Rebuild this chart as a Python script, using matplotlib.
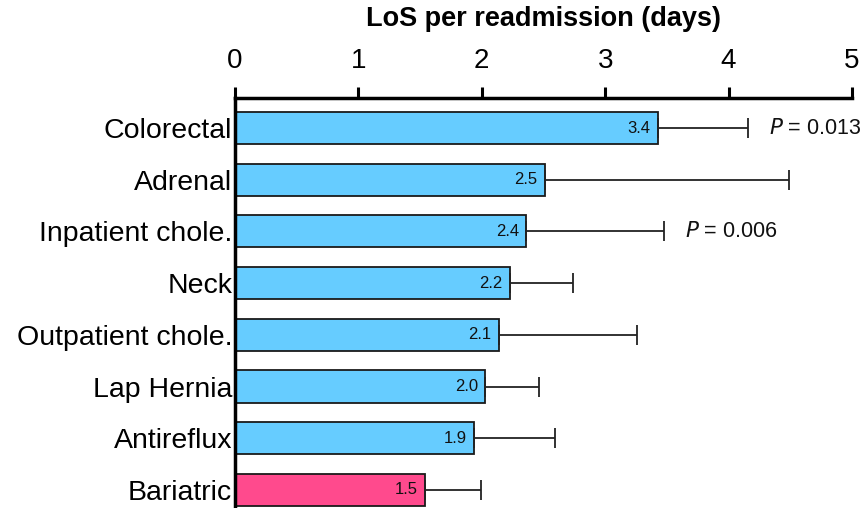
import matplotlib.pyplot as plt

plt.rcParams['font.family'] = ['Liberation Sans', 'DejaVu Sans']

categories = ['Colorectal', 'Adrenal', 'Inpatient chole.', 'Neck',
              'Outpatient chole.', 'Lap Hernia', 'Antireflux', 'Bariatric']
los_mean = [3.43, 2.51, 2.36, 2.23, 2.14, 2.03, 1.94, 1.54]
los_upper = [4.16, 4.49, 3.48, 2.74, 3.26, 2.46, 2.59, 1.99]
value_labels = ['3.4', '2.5', '2.4', '2.2', '2.1', '2.0', '1.9', '1.5']
p_values = {0: '0.013', 2: '0.006'}

colors = ['#66CCFF'] * 7 + ['#FF4A8D']
err_plus = [u - m for u, m in zip(los_upper, los_mean)]
y = list(range(len(categories)))

fig = plt.figure(figsize=(8.64, 5.08), dpi=100)
ax = fig.add_axes([0.272, 0.0, 0.714, 0.807])

ax.barh(y, los_mean, height=0.62, color=colors, edgecolor='#1a1a1a', linewidth=1.3,
        xerr=[[0] * len(y), err_plus],
        error_kw=dict(ecolor='#222222', elinewidth=1.3, capsize=7, capthick=1.3))

for i, (v, lab) in enumerate(zip(los_mean, value_labels)):
    ax.text(v - 0.06, i, lab, ha='right', va='center', fontsize=12, color='#111111')

for i, p in p_values.items():
    ax.text(los_upper[i] + 0.17, i, r'$\it{P}$' + f' = {p}', ha='left', va='center',
            fontsize=15.5, color='#111111')

ax.set_xlim(0, 5)
ax.set_ylim(7.35, -0.58)
ax.set_yticks(y)
ax.set_yticklabels(categories, fontsize=20.5)
ax.tick_params(axis='y', length=0, pad=2)

ax.xaxis.set_label_position('top')
ax.xaxis.tick_top()
ax.set_xticks([0, 1, 2, 3, 4, 5])
ax.tick_params(axis='x', direction='out', length=8, width=2.2, labelsize=20, pad=9)
ax.set_xlabel('LoS per readmission (days)', fontsize=19.5, fontweight='bold', labelpad=16)

ax.spines['bottom'].set_visible(False)
ax.spines['right'].set_visible(False)
ax.spines['top'].set_linewidth(2.5)
ax.spines['left'].set_linewidth(2.5)

fig.savefig('out.png', dpi=100)
